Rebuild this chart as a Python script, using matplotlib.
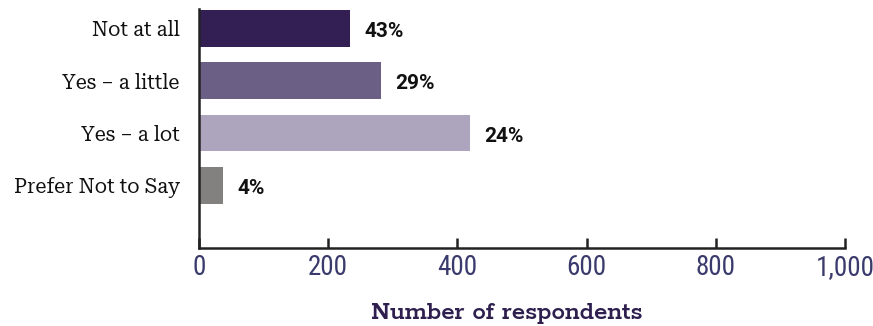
import matplotlib
matplotlib.use("Agg")
import matplotlib.pyplot as plt
from matplotlib.ticker import FuncFormatter

# survey answers, respondent counts and share labels
categories = ["Not at all", "Yes \u2013 a little", "Yes \u2013 a lot", "Prefer Not to Say"]
counts = [233, 281, 419, 37]
shares = ["43%", "29%", "24%", "4%"]
bar_colors = ["#341f55", "#6c5f85", "#ada4be", "#828180"]
x_ticks = [0, 200, 400, 600, 800, 1000]

fig = plt.figure(figsize=(8.73, 3.26), dpi=100)
ax = fig.add_axes([0.228, 0.239, 0.740, 0.733])

ypos = range(len(categories))
bars = ax.barh(ypos, counts, height=0.7, color=bar_colors)

for bar, txt in zip(bars, shares):
    ax.text(bar.get_width() + 23, bar.get_y() + bar.get_height() / 2 + 0.06, txt,
            ha="left", va="center", fontsize=15, fontweight="bold",
            family="Roboto", color="#111111")

ax.set_yticks(list(ypos))
ax.set_yticklabels(categories, family="Roboto Serif", fontsize=14.5, color="#111111")
ax.tick_params(axis="y", length=0, pad=14)

ax.set_xlim(0, 1000)
ax.set_ylim(4.2, -0.37)
ax.set_xticks(x_ticks)
ax.xaxis.set_major_formatter(FuncFormatter(lambda v, p: f"{int(v):,}"))
ax.xaxis.set_ticks_position("bottom")
ax.tick_params(axis="x", direction="in", length=7, width=1.8, pad=4,
               labelsize=19.5, labelcolor="#3a3a6c", color="#222222")
for lab in ax.get_xticklabels():
    lab.set_family("Roboto Condensed")

for side in ["top", "right"]:
    ax.spines[side].set_visible(False)
for side in ["left", "bottom"]:
    ax.spines[side].set_linewidth(1.8)
    ax.spines[side].set_color("#222222")

ax.set_xlabel("Number of respondents", family="Rokkitt", fontweight=600,
              fontsize=19.5, color="#2e1f4f", va="center")
ax.xaxis.set_label_coords(0.477, -0.272)

plt.savefig("out.png", dpi=100)
